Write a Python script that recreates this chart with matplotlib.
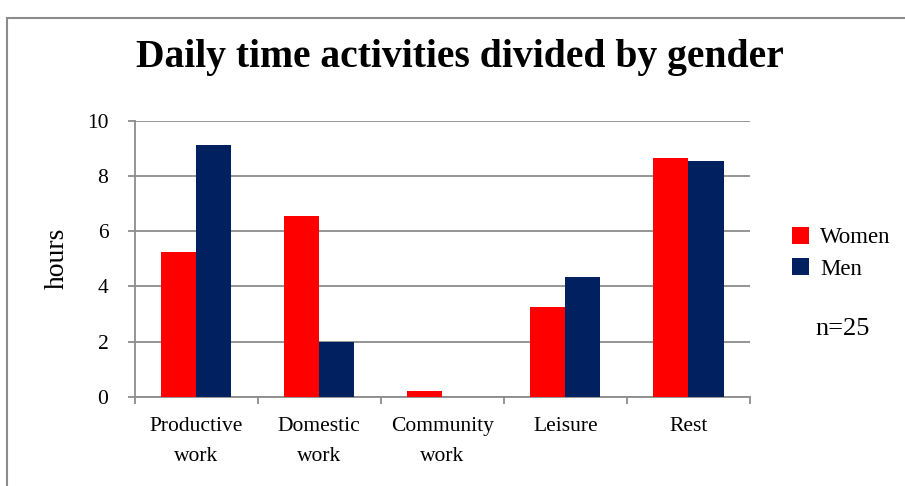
import numpy as np
import matplotlib.pyplot as plt
from matplotlib.patches import Rectangle, Patch

plt.rcParams['font.family'] = ['Liberation Serif', 'DejaVu Serif']

# hours per day, by activity
categories = ['Productive\nwork', 'Domestic\nwork', 'Community\nwork', 'Leisure', 'Rest']
women = [5.23, 6.54, 0.22, 3.24, 8.66]
men = [9.12, 2.0, 0.0, 4.35, 8.53]

red = '#FF0000'
navy = '#002060'
grid_gray = '#8C8C8C'

fig = plt.figure(figsize=(9.05, 4.86), dpi=100)
ax = fig.add_axes([0.1488, 0.1837, 0.6799, 0.5679])

x = np.arange(len(categories))
w = 0.285
ax.bar(x - w / 2, women, w, color=red, edgecolor='none', zorder=3)
ax.bar(x + w / 2, men, w, color=navy, edgecolor='none', zorder=3)

ax.set_xlim(-0.5, len(categories) - 0.5)
ax.set_ylim(0, 10)
ax.set_yticks(range(0, 11, 2))
ax.yaxis.grid(True, color=grid_gray, linewidth=1.3, zorder=0)

# labels at the category centres, tick marks on the boundaries
ax.set_xticks(x)
ax.set_xticklabels(categories, fontsize=15.5, linespacing=1.78)
ax.set_xticks(np.arange(-0.5, len(categories)), minor=True)
ax.tick_params(axis='x', which='major', length=0, pad=14.5)
ax.tick_params(axis='x', which='minor', length=5, width=1.3, color=grid_gray)
ax.tick_params(axis='y', length=5, width=1.3, color=grid_gray, pad=14, labelsize=15.5)

for side in ['top', 'right']:
    ax.spines[side].set_visible(False)
for side in ['left', 'bottom']:
    ax.spines[side].set_color(grid_gray)
    ax.spines[side].set_linewidth(1.3)

ax.set_ylabel('hours', fontsize=20, labelpad=12)

fig.text(0.508, 0.881, 'Daily time activities divided by gender',
         ha='center', va='center', fontsize=28.5, fontweight='bold')

handles = [Patch(facecolor=red, label='Women'), Patch(facecolor=navy, label='Men')]
fig.legend(handles=handles, loc='center left', bbox_to_anchor=(0.862, 0.479),
           frameon=False, fontsize=16.5, handlelength=0.75, handleheight=0.75,
           handletextpad=0.5, labelspacing=0.44, borderpad=0)

fig.text(0.901, 0.323, 'n=25', ha='left', va='center', fontsize=19)

# outer frame of the chart area
fig.patches.append(Rectangle((7 / 905, -0.1), 1.2, 1 - 18 / 486 + 0.1,
                             transform=fig.transFigure, fill=False,
                             edgecolor='#8C8C8C', linewidth=1.5))

fig.savefig('out.png', dpi=100)
